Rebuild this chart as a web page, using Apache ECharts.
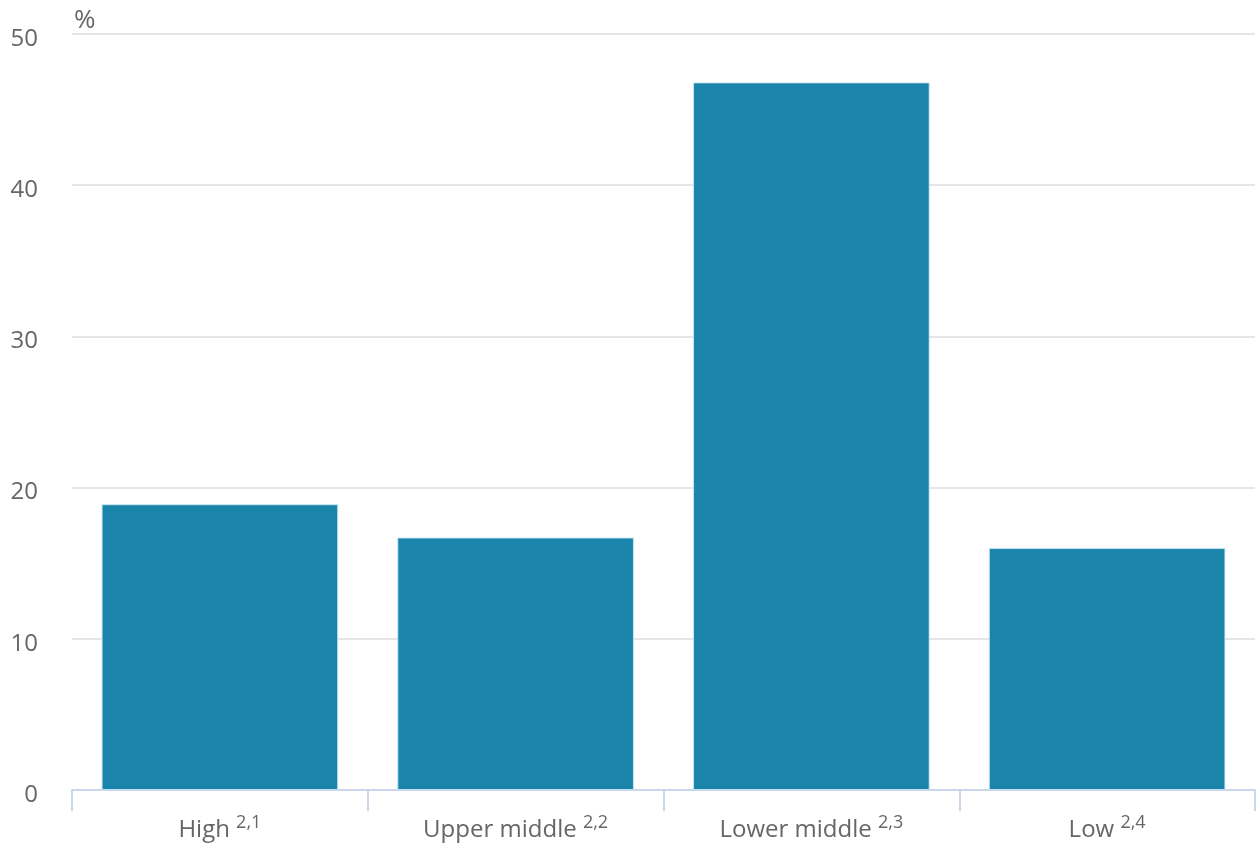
<!DOCTYPE html>
<html>
<head>
<meta charset="utf-8">
<script src="https://cdn.jsdelivr.net/npm/echarts@6/dist/echarts.min.js"></script>
<style>html,body{margin:0;padding:0;background:#fff}#chart{width:1257px;height:845px}</style>
</head>
<body>
<div id="chart"></div>
<script>
const categories = ['High', 'Upper middle', 'Lower middle', 'Low'];
const superscripts = ['2,1', '2,2', '2,3', '2,4'];
const values = [18.9, 16.7, 46.8, 16.0];
const yTicks = [0, 10, 20, 30, 40, 50];

const chart = echarts.init(document.getElementById('chart'));
chart.setOption({
  animation: false,
  grid: { left: 72, right: 2, top: 34, bottom: 55 },
  xAxis: {
    type: 'category',
    data: categories,
    axisLine: { lineStyle: { color: '#ccd6eb', width: 2 } },
    axisTick: { show: true, length: 21, lineStyle: { color: '#ccd6eb', width: 2 } },
    axisLabel: {
      margin: 24,
      formatter: function (v, i) { return '{a|' + v + ' }{s|' + superscripts[i] + '}'; },
      rich: {
        a: { fontFamily: 'Open Sans', fontSize: 24, color: '#666666', lineHeight: 28, verticalAlign: 'bottom' },
        s: { fontFamily: 'Open Sans', fontSize: 18, color: '#666666', lineHeight: 18, verticalAlign: 'top' }
      }
    }
  },
  yAxis: {
    type: 'value',
    min: 0, max: 50, interval: 10,
    name: '{p|%}',
    nameLocation: 'end',
    nameGap: 0,
    nameTextStyle: {
      align: 'left', verticalAlign: 'bottom',
      rich: { p: { fontFamily: 'Open Sans', fontSize: 26, color: '#666666', padding: [0, 0, 0, 2] } }
    },
    axisLine: { show: false },
    axisTick: { show: false },
    axisLabel: {
      margin: 34,
      formatter: function (v) { return yTicks.indexOf(v) >= 0 ? '{v|' + v + '}' : ''; },
      rich: { v: { fontFamily: 'Open Sans', fontSize: 24, color: '#666666', padding: [10, 0, 0, 0] } }
    },
    splitLine: { lineStyle: { color: '#e6e6e6', width: 2 } }
  },
  series: [{
    type: 'bar',
    data: values,
    barWidth: '80%',
    itemStyle: { color: '#1a84ab', borderColor: 'rgba(200,230,245,0.9)', borderWidth: 1 }
  }]
});
</script>
</body>
</html>
